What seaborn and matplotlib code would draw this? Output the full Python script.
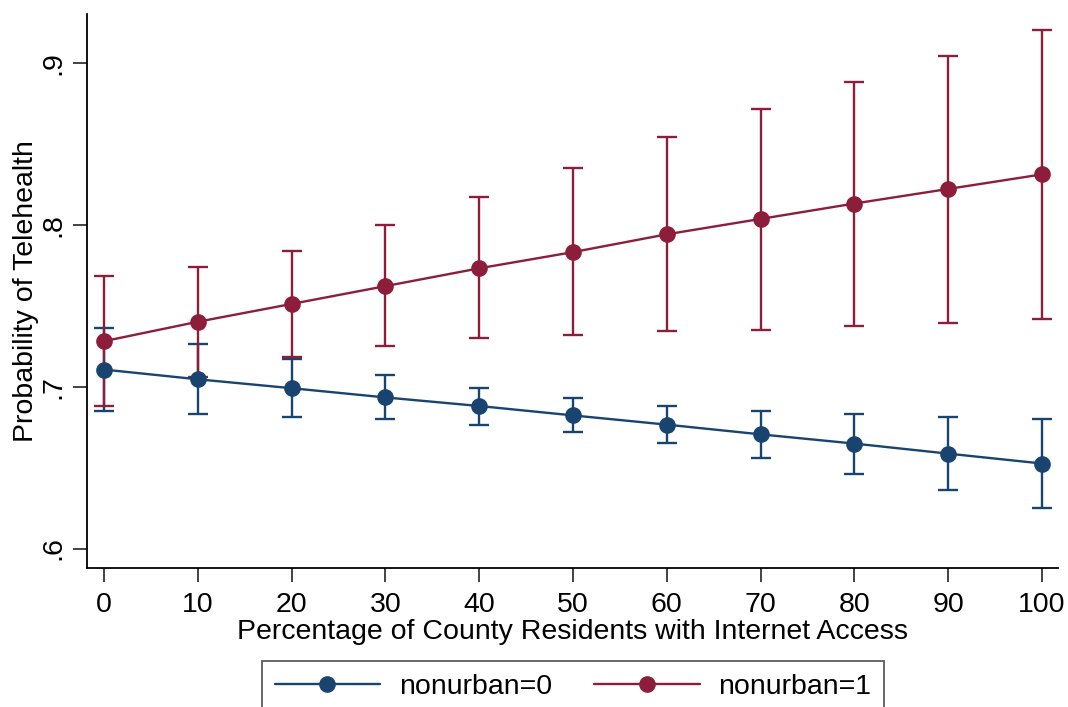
import pandas as pd
import matplotlib.pyplot as plt
import seaborn as sns

# Valores (márgenes predichos con IC 95%)
internet_pct = [0, 10, 20, 30, 40, 50, 60, 70, 80, 90, 100]

urban_mean = [0.7105, 0.7045, 0.6990, 0.6933, 0.6880, 0.6822, 0.6765, 0.6705, 0.6648, 0.6586, 0.6525]
urban_lo = [0.685, 0.683, 0.681, 0.680, 0.676, 0.672, 0.665, 0.656, 0.646, 0.636, 0.625]
urban_hi = [0.736, 0.726, 0.717, 0.707, 0.699, 0.693, 0.688, 0.685, 0.683, 0.681, 0.680]

rural_mean = [0.728, 0.740, 0.751, 0.762, 0.773, 0.783, 0.794, 0.8035, 0.813, 0.822, 0.831]
rural_lo = [0.688, 0.706, 0.718, 0.725, 0.730, 0.732, 0.734, 0.735, 0.7375, 0.7395, 0.7415]
rural_hi = [0.7685, 0.774, 0.784, 0.7995, 0.817, 0.835, 0.854, 0.8715, 0.888, 0.904, 0.920]

groups = ['nonurban=0', 'nonurban=1']
colors = {'nonurban=0': '#1a4470', 'nonurban=1': '#8c1e3c'}

df = pd.concat([
    pd.DataFrame({'pct': internet_pct, 'prob': urban_mean, 'lo': urban_lo, 'hi': urban_hi, 'grupo': groups[0]}),
    pd.DataFrame({'pct': internet_pct, 'prob': rural_mean, 'lo': rural_lo, 'hi': rural_hi, 'grupo': groups[1]}),
], ignore_index=True)

sns.set_style("white")
plt.rcParams['font.family'] = ['Liberation Sans', 'DejaVu Sans']
plt.rcParams['text.color'] = 'black'
plt.rcParams['axes.labelcolor'] = 'black'
plt.rcParams['xtick.color'] = 'black'
plt.rcParams['ytick.color'] = 'black'

fs = 20.5

fig = plt.figure(figsize=(10.68, 7.07), dpi=100)
ax = fig.add_axes([87 / 1068, 1 - 568 / 707, (1058 - 87) / 1068, (568 - 14) / 707])

# barras de error primero, luego líneas con marcadores
for g in groups:
    sub = df[df['grupo'] == g]
    ax.errorbar(sub['pct'], sub['prob'],
                yerr=[sub['prob'] - sub['lo'], sub['hi'] - sub['prob']],
                fmt='none', ecolor=colors[g], elinewidth=1.7, capsize=7, capthick=1.7, zorder=2)

sns.lineplot(data=df, x='pct', y='prob', hue='grupo', hue_order=groups, palette=colors,
             marker='o', markersize=12, markeredgewidth=0, linewidth=1.7, ax=ax, zorder=3)

ax.set_xlim(-1.8, 101.7)
ax.set_ylim(0.588, 0.930)
ax.set_xticks(internet_pct)
ax.set_xticklabels([str(v) for v in internet_pct])
ax.set_yticks([0.6, 0.7, 0.8, 0.9])
ax.set_yticklabels(['.6', '.7', '.8', '.9'], rotation=90, va='center')

ax.tick_params(axis='both', which='major', length=10, width=1.2, color='#222222',
               labelsize=fs, direction='out', left=True, bottom=True)
ax.tick_params(axis='x', pad=7.5)
ax.tick_params(axis='y', pad=5)

sns.despine(ax=ax)
for side in ['left', 'bottom']:
    ax.spines[side].set_color('black')
    ax.spines[side].set_linewidth(1.3)

ax.set_xlabel('Percentage of County Residents with Internet Access', fontsize=fs, labelpad=0.5)
ax.set_ylabel('Probability of Telehealth', fontsize=fs, labelpad=1)

# leyenda abajo, con marco, fuera del área de trazado
handles, labels = ax.get_legend_handles_labels()
ax.get_legend().remove()
leg = fig.legend(handles, labels, loc='upper center', bbox_to_anchor=(573 / 1068, 1 - 661 / 707),
                 ncol=2, fontsize=fs, frameon=True, fancybox=False, edgecolor='#333333',
                 handlelength=3.7, handletextpad=0.65, columnspacing=1.5, borderpad=0.45,
                 borderaxespad=0)
leg.get_frame().set_linewidth(1.3)

fig.savefig('out.png', dpi=100)
